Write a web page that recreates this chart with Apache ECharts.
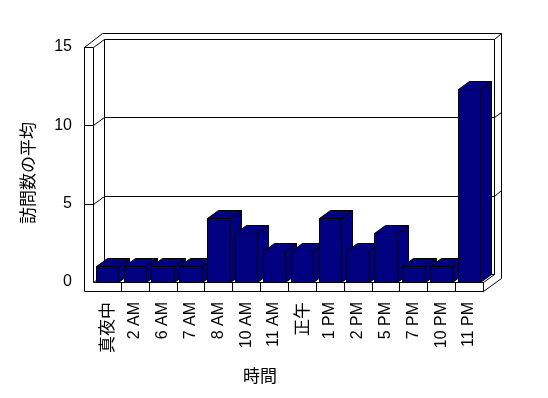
<!DOCTYPE html>
<html><head><meta charset="utf-8">
<script src="https://cdn.jsdelivr.net/npm/echarts/dist/echarts.min.js"></script>
<style>html,body{margin:0;padding:0;background:#fff}#c{width:548px;height:398px}</style>
</head><body><div id="c"></div>
<script>
const categories = ['真夜中','2 AM','6 AM','7 AM','8 AM','10 AM','11 AM','正午','1 PM','2 PM','5 PM','7 PM','10 PM','11 PM'];
const visits = [1,1,1,1,4.1,3.1,2,2,4.1,2,3.1,1,1,12.3];
const yTicks = [0,5,10,15];
const yAxisTitle = '訪問数の平均';
const xAxisTitle = '時間';

const yMax = yTicks[yTicks.length-1];
const FONT = '"Liberation Sans", "Noto Sans CJK JP", sans-serif';
const DX = 11, DY = -8, BX = 7, BY = -5.5, T = 9;
const r = v => Math.round(v) + 0.5;

function L(x1,y1,x2,y2){return {type:'line',shape:{x1:r(x1),y1:r(y1),x2:r(x2),y2:r(y2)},style:{stroke:'#000',lineWidth:1}};}

function renderFrame(params, api){
  const n = categories.length;
  const band = api.size([1,0])[0];
  const c0 = api.coord([0,0]);
  const X0 = c0[0]-band/2, Y0 = c0[1];
  const X1 = api.coord([n-1,0])[0]+band/2;
  const YT = api.coord([0,yMax])[1];
  const ch = [];
  const sil = [[X0-T,YT],[X0-T+DX+BX,YT+DY+BY],[X1+DX+BX,YT+DY+BY],[X1+DX+BX,Y0+T+DY+BY],[X1,Y0+T],[X0-T,Y0+T]].map(p=>[r(p[0]),r(p[1])]);
  ch.push({type:'polygon',shape:{points:sil},style:{fill:'#fff',stroke:'#000',lineWidth:1}});
  ch.push(L(X0,YT,X0,Y0));
  ch.push(L(X0-T,YT,X0,YT));
  ch.push(L(X0,Y0,X1,Y0));
  ch.push(L(X1,Y0,X1,Y0+T));
  ch.push(L(X0,YT,X0+DX,YT+DY));
  ch.push(L(X0+DX,YT+DY,X1+DX,YT+DY));
  ch.push(L(X0+DX,YT+DY,X0+DX,Y0+DY));
  ch.push(L(X0+DX,Y0+DY,X1+DX,Y0+DY));
  ch.push(L(X1+DX,YT+DY,X1+DX,Y0+DY));
  ch.push(L(X1+DX,YT+DY,X1+DX+BX,YT+DY+BY));
  ch.push(L(X1,Y0,X1+DX,Y0+DY));
  ch.push(L(X0,Y0,X0+DX,Y0+DY));
  yTicks.forEach(v=>{
    if(v===0||v===yMax) return;
    const y = api.coord([0,v])[1];
    ch.push(L(X0-T,y,X0,y));
    ch.push(L(X0,y,X0+DX,y+DY));
    ch.push(L(X0+DX,y+DY,X1+DX,y+DY));
    ch.push(L(X1+DX,y+DY,X1+DX+BX,y+DY+BY));
  });
  for(let i=1;i<n;i++){
    const x = api.coord([i,0])[0]-band/2;
    ch.push(L(x,Y0,x,Y0+T));
  }
  return {type:'group',children:ch};
}

function renderBar(params, api){
  const band = api.size([1,0])[0];
  const w = band*0.81;
  const top = api.coord([api.value(0), api.value(1)]);
  const base = api.coord([api.value(0), 0]);
  const xl = Math.round(top[0]-w/2)+0.5, xr = Math.round(top[0]+w/2)+0.5;
  const yt = Math.round(top[1])+0.5, yb = Math.round(base[1])+0.5;
  const st = {fill:'#000080',stroke:'#000',lineWidth:1};
  return {type:'group',children:[
    {type:'polygon',shape:{points:[[xr,yt],[xr+DX,yt+DY],[xr+DX,yb+DY],[xr,yb]]},style:st},
    {type:'polygon',shape:{points:[[xl,yt],[xr,yt],[xr+DX,yt+DY],[xl+DX,yt+DY]]},style:st},
    {type:'rect',shape:{x:xl,y:yt,width:xr-xl,height:yb-yt},style:st}
  ]};
}

const chart = echarts.init(document.getElementById('c'), null, {renderer:'canvas'});
chart.setOption({
  animation:false,
  backgroundColor:'#fff',
  grid:{left:93,right:65,top:46.7,bottom:116,containLabel:false},
  xAxis:{type:'category',data:categories,
    axisLine:{show:false},axisTick:{show:false},splitLine:{show:false},
    axisLabel:{interval:0,rotate:90,margin:20,fontSize:16,color:'#000',fontFamily:FONT,
      formatter:v=>/[^\x00-\x7f]/.test(v)?'{j|'+v+'}':v,
      rich:{j:{fontSize:17,fontFamily:'"Noto Sans CJK JP", sans-serif',color:'#000'}}}},
  yAxis:{type:'value',min:0,max:yMax,interval:5,
    axisLine:{show:false},axisTick:{show:false},splitLine:{show:false},
    axisLabel:{margin:21,fontSize:16,color:'#000',fontFamily:FONT}},
  graphic:[
    {type:'text',x:28,y:173,rotation:Math.PI/2,style:{text:yAxisTitle,fontSize:17,fontFamily:'"Noto Sans CJK JP", sans-serif',fill:'#000',align:'center',verticalAlign:'middle'}},
    {type:'text',x:260,y:376,style:{text:xAxisTitle,fontSize:17,fontFamily:'"Noto Sans CJK JP", sans-serif',fill:'#000',align:'center',verticalAlign:'middle'}}
  ],
  series:[
    {type:'custom',z:1,clip:false,silent:true,data:[[0,0]],renderItem:renderFrame},
    {type:'custom',z:2,clip:false,data:visits.map((v,i)=>[i,v]),renderItem:renderBar}
  ]
});
</script></body></html>
